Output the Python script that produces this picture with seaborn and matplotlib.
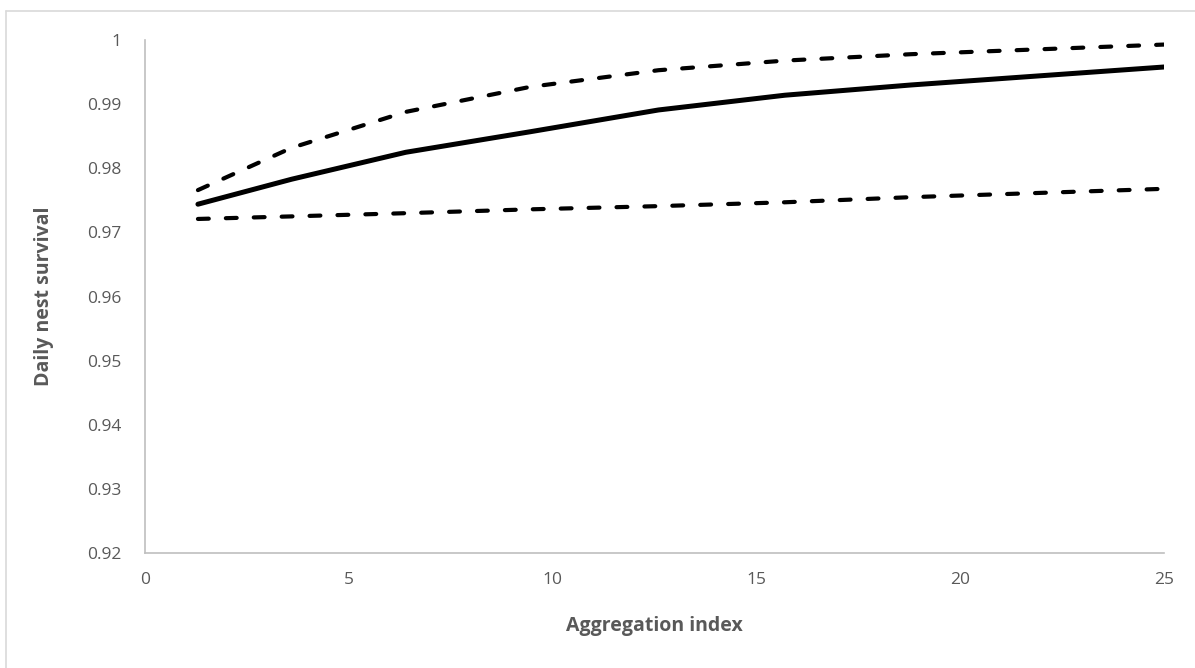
import matplotlib
matplotlib.use("Agg")
import matplotlib.pyplot as plt
import seaborn as sns
import pandas as pd
from matplotlib.lines import Line2D

# values
agg_index = [1.3, 3.6, 6.4, 9.45, 12.6, 15.7, 18.8, 25]
survival = [0.9744, 0.9783, 0.9825, 0.9857, 0.9891, 0.9914, 0.9930, 0.9958]
upper_ci = [0.9766, 0.9832, 0.9888, 0.9927, 0.9953, 0.9968, 0.9978, 0.9993]
lower_ci = [0.9721, 0.9725, 0.9730, 0.9736, 0.9741, 0.9747, 0.9755, 0.9768]

x_ticks = [0, 5, 10, 15, 20, 25]
y_ticks = [0.92, 0.93, 0.94, 0.95, 0.96, 0.97, 0.98, 0.99, 1.0]
y_tick_labels = ["0.92", "0.93", "0.94", "0.95", "0.96", "0.97", "0.98", "0.99", "1"]

df = pd.DataFrame({"x": agg_index, "est": survival, "hi": upper_ci, "lo": lower_ci})

sns.set_style("white")
plt.rcParams["font.family"] = ["Open Sans", "DejaVu Sans"]

fig = plt.figure(figsize=(11.95, 6.68), dpi=100)
ax = fig.add_axes([0.1213, 0.1722, 0.8527, 0.7678])

sns.lineplot(data=df, x="x", y="est", ax=ax, color="black", linewidth=3.6,
             solid_capstyle="round", solid_joinstyle="round")
for col in ["hi", "lo"]:
    sns.lineplot(data=df, x="x", y=col, ax=ax, color="black", linewidth=3.0)
for ln in ax.lines[1:]:
    ln.set_dashes((2.6, 4.1))
    ln.set_dash_capstyle("round")

ax.set_xlim(0, 25)
ax.set_ylim(0.92, 1.0)
ax.set_xticks(x_ticks)
ax.set_xticklabels([str(t) for t in x_ticks])
ax.set_yticks(y_ticks)
ax.set_yticklabels(y_tick_labels)
ax.tick_params(axis="both", length=0, labelsize=12.5, labelcolor="#595959")
ax.tick_params(axis="y", pad=17)
ax.tick_params(axis="x", pad=14)

ax.set_xlabel("Aggregation index", fontsize=14, fontweight="bold", color="#595959", labelpad=20)
ax.set_ylabel("Daily nest survival", fontsize=14, fontweight="bold", color="#595959", labelpad=24)

for side in ["top", "right"]:
    ax.spines[side].set_visible(False)
for side in ["left", "bottom"]:
    ax.spines[side].set_color("#bfbfbf")
    ax.spines[side].set_linewidth(1.2)

# chart-area border (top and left visible in the reference)
fig.add_artist(Line2D([0.005, 1.0], [0.984, 0.984], transform=fig.transFigure,
                      color="#d9d9d9", linewidth=1.2))
fig.add_artist(Line2D([0.005, 0.005], [0.0, 0.984], transform=fig.transFigure,
                      color="#d9d9d9", linewidth=1.2))

fig.savefig("out.png", dpi=100, facecolor="white")
